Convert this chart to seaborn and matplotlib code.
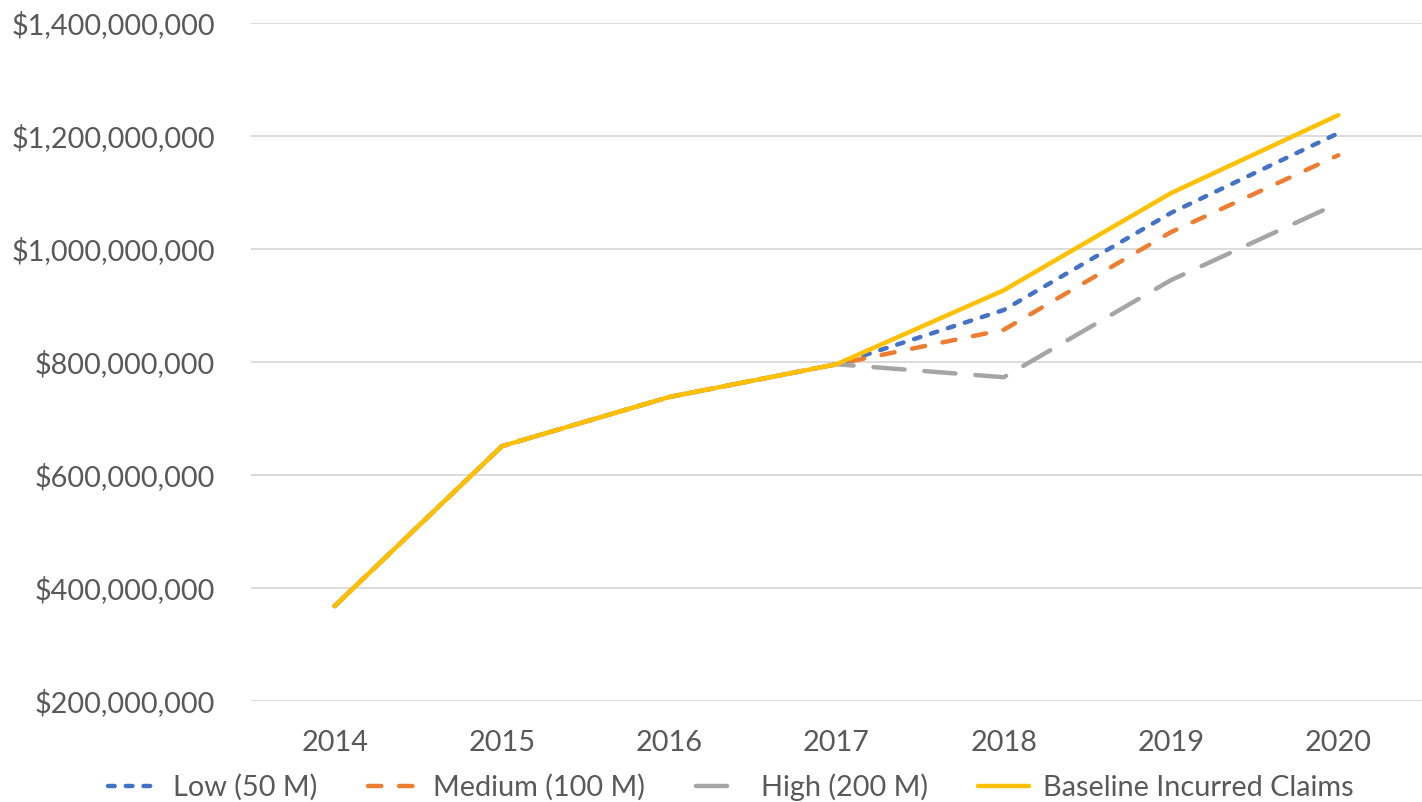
import matplotlib
matplotlib.use("Agg")
import matplotlib.pyplot as plt
import matplotlib.ticker as mticker
import seaborn as sns
import pandas as pd

# ================= DATA =================
years = ["2014", "2015", "2016", "2017", "2018", "2019", "2020"]
low = [368e6, 651e6, 738e6, 796e6, 892e6, 1064e6, 1205e6]
medium = [368e6, 651e6, 738e6, 796e6, 857e6, 1030e6, 1166e6]
high = [368e6, 651e6, 738e6, 796e6, 773e6, 945e6, 1081e6]
baseline = [368e6, 651e6, 738e6, 796e6, 927e6, 1099e6, 1237e6]

series_names = ["Low (50 M)", "Medium (100 M)", "High (200 M)", "Baseline Incurred Claims"]
colors = ["#4472C4", "#ED7D31", "#A5A5A5", "#FFC000"]
dash_styles = [(1.5, 2.5), (3, 4), (7, 4.5), ""]

# ================= STYLE =================
sns.set_theme(style="white")
plt.rcParams["font.family"] = ["Lato", "DejaVu Sans"]

fig = plt.figure(figsize=(14.22, 8.02), dpi=100)
ax = fig.add_axes([0.1765, 0.126, 0.8235, 0.8453])

x = list(range(len(years)))
for name, vals, col, ds in zip(series_names, [low, medium, high, baseline], colors, dash_styles):
    df = pd.DataFrame({"x": x, "y": vals})
    sns.lineplot(data=df, x="x", y="y", ax=ax, color=col, linewidth=3.2,
                 label=name, solid_capstyle="round")
    line = ax.lines[-1]
    if ds:
        line.set_dashes(ds)
        line.set_dash_capstyle("round")

ax.set_xlim(-0.5, len(years) - 0.5)
ax.set_ylim(200e6, 1400e6)
ax.yaxis.set_major_locator(mticker.MultipleLocator(200e6))
ax.yaxis.set_major_formatter(mticker.FuncFormatter(lambda v, p: f"${v:,.0f}"))
ax.set_xticks(x)
ax.set_xticklabels(years)
ax.set_xlabel("")
ax.set_ylabel("")

ax.grid(axis="y", color="#D9D9D9", linewidth=1.3)
ax.set_axisbelow(True)
for s in ax.spines.values():
    s.set_visible(False)
ax.tick_params(axis="both", length=0, labelsize=20.8, colors="#595959")
ax.tick_params(axis="y", pad=26)
ax.tick_params(axis="x", pad=21)

ax.legend(loc="center", bbox_to_anchor=(0.41, -0.127), ncol=4,
          frameon=False, fontsize=20.8, handlelength=1.75, columnspacing=1.75,
          handletextpad=0.5, labelcolor="#595959")

fig.savefig("out.png", dpi=100)
